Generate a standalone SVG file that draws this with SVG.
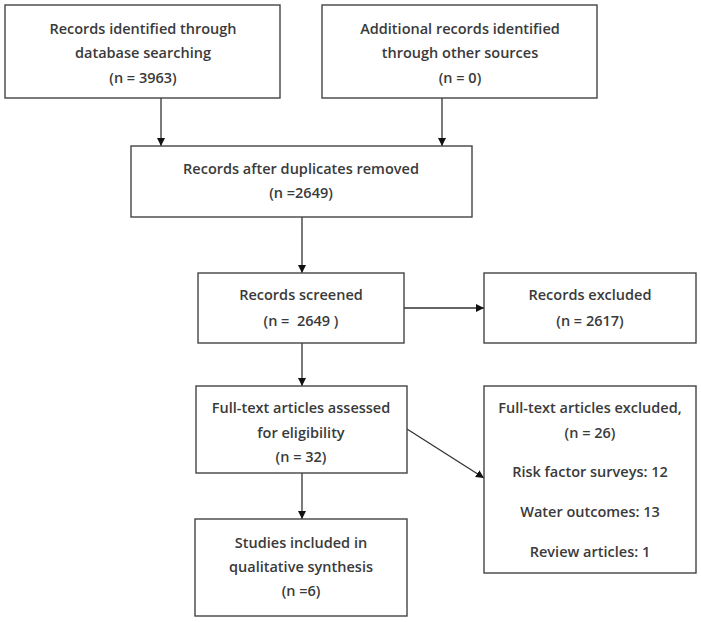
<svg xmlns="http://www.w3.org/2000/svg" width="701" height="622" viewBox="0 0 701 622">
<style>
.box{fill:#fff;stroke:#444;stroke-width:1.4}
text{font-family:"Open Sans","Noto Sans",sans-serif;font-size:14.5px;font-weight:600;fill:#3a3a3a;text-anchor:middle;white-space:pre}
.c{stroke:#333;stroke-width:1.3;fill:none;marker-end:url(#ah)}
</style>
<defs>
<marker id="ah" viewBox="0 0 10 10" refX="10" refY="5" markerWidth="8" markerHeight="8" markerUnits="userSpaceOnUse" orient="auto">
<path d="M0,0 L10,5 L0,10 z" fill="#111"/>
</marker>
</defs>
<rect width="701" height="622" fill="#fff"/>
<g id="connectors">
<line class="c" x1="161" y1="98" x2="161" y2="146"/>
<line class="c" x1="442" y1="98" x2="442" y2="146"/>
<line class="c" x1="302" y1="217" x2="302" y2="273"/>
<line class="c" x1="404" y1="308" x2="484" y2="308"/>
<line class="c" x1="302" y1="343" x2="302" y2="386"/>
<line class="c" x1="407" y1="429" x2="484" y2="478"/>
<line class="c" x1="302" y1="473" x2="302" y2="519"/>
</g>
<g id="n1">
<rect class="box" x="5" y="5" width="275" height="93"/>
<text x="143" y="34">Records identified through</text>
<text x="143" y="58">database searching</text>
<text x="143" y="83">(n = 3963)</text>
</g>
<g id="n2">
<rect class="box" x="322" y="5" width="275" height="93"/>
<text x="460" y="34">Additional records identified</text>
<text x="460" y="58">through other sources</text>
<text x="460" y="83">(n = 0)</text>
</g>
<g id="n3">
<rect class="box" x="131" y="146" width="341" height="71"/>
<text x="301" y="174">Records after duplicates removed</text>
<text x="301" y="198">(n =2649)</text>
</g>
<g id="n4">
<rect class="box" x="198" y="273" width="206" height="70"/>
<text x="301" y="300">Records screened</text>
<text x="301" y="326" xml:space="preserve">(n =  2649 )</text>
</g>
<g id="n5">
<rect class="box" x="484" y="273" width="212" height="70"/>
<text x="590" y="300">Records excluded</text>
<text x="590" y="326">(n = 2617)</text>
</g>
<g id="n6">
<rect class="box" x="196" y="386" width="211" height="87"/>
<text x="301" y="413">Full-text articles assessed</text>
<text x="301" y="438">for eligibility</text>
<text x="301" y="462">(n = 32)</text>
</g>
<g id="n7">
<rect class="box" x="484" y="386" width="212" height="187"/>
<text x="590" y="413">Full-text articles excluded,</text>
<text x="590" y="438">(n = 26)</text>
<text x="590" y="477">Risk factor surveys: 12</text>
<text x="590" y="517">Water outcomes: 13</text>
<text x="590" y="557">Review articles: 1</text>
</g>
<g id="n8">
<rect class="box" x="195" y="519" width="212" height="97"/>
<text x="301" y="548">Studies included in</text>
<text x="301" y="572">qualitative synthesis</text>
<text x="301" y="596">(n =6)</text>
</g>
</svg>
